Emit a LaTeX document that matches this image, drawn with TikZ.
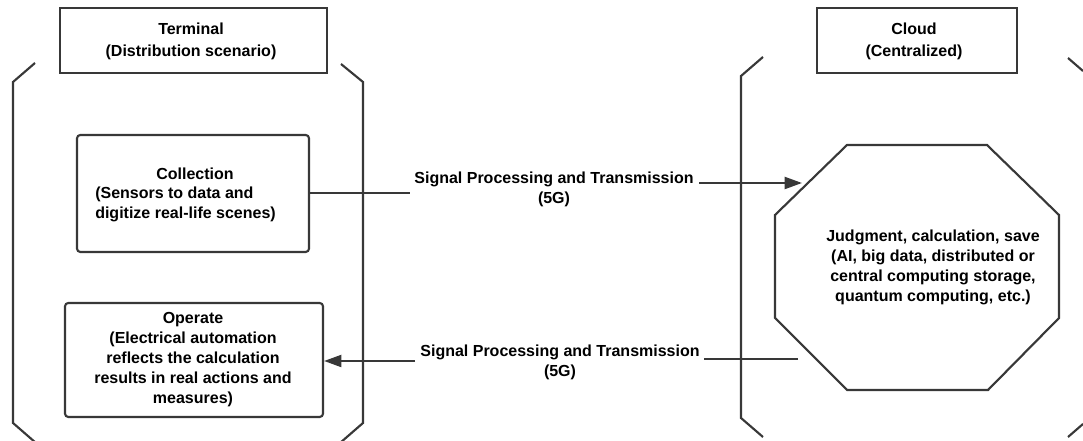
\documentclass[tikz,border=0pt]{standalone}
\usepackage{fontspec}
\setmainfont{Liberation Sans}
\usetikzlibrary{arrows.meta,fit}
\begin{document}
\begin{tikzpicture}[x=0.75pt,y=-0.75pt,
  line/.style={draw=black!78, line width=1.6pt},
  txt/.style={font=\fontsize{12}{15}\selectfont\bfseries, align=center, inner sep=0pt, text=black},
  hdrtxt/.style={font=\fontsize{12}{16.5}\selectfont\bfseries, align=center, inner sep=0pt, text=black},
  hdr/.style={line, rectangle, inner sep=0pt},
  box/.style={line, rectangle, rounded corners=2.5pt, inner sep=0pt},
  arr/.style={line, -{Triangle[length=13pt,width=9pt]}},
]
\useasboundingbox (0,0) rectangle (1083,441);

% header boxes
\node[hdr, fit={(60,8) (327,73)}] (term) {};
\node[hdrtxt] (termT) at (191,41) {Terminal\\(Distribution scenario)};
\node[hdr, fit={(817,8) (1017,73)}] (cloud) {};
\node[hdrtxt] (cloudT) at (914,41) {Cloud\\(Centralized)};

% brackets
\draw[line] (35,63) -- (13,82) -- (13,423) -- (36,443);
\draw[line] (341,64) -- (363,82) -- (363,423) -- (340,443);
\draw[line] (763,57) -- (741,76) -- (741,418) -- (763,437);
\draw[line] (1068,58) -- (1083,71);
\draw[line] (1083,424) -- (1068,437);

% terminal boxes
\node[box, fit={(77,135) (309,252)}] (coll) {};
\node[txt] (collT) at (195,174) {Collection};
\node[txt, align=left, anchor=west] (collB) at (95,204) {(Sensors to data and\\digitize real-life scenes)};

\node[box, fit={(65,303) (323,417)}] (oper) {};
\node[txt] (operT) at (193,360) {Operate\\(Electrical automation\\reflects the calculation\\results in real actions and\\measures)};

% octagon
\draw[line] (847,145) -- (987,145) -- (1059,215) -- (1059,318) -- (988,390) -- (847,390) -- (775,318) -- (775,215) -- cycle;
\node[txt] (judge) at (933,267) {Judgment, calculation, save\\(AI, big data, distributed or\\central computing storage,\\quantum computing, etc.)};

% signal labels
\node[txt] (sig1) at (554,189) {Signal Processing and Transmission\\(5G)};
\node[txt] (sig2) at (560,362) {Signal Processing and Transmission\\(5G)};

% connectors
\coordinate (s1a) at (410,193);
\coordinate (s1b) at (699,183);
\coordinate (s1t) at (802,183);
\draw[line] (coll.east |- s1a) -- (s1a);
\draw[arr] (s1b) -- (s1t);

\coordinate (s2s) at (798,359);
\coordinate (s2b) at (704,359);
\coordinate (s2a) at (415,361);
\draw[line] (s2s) -- (s2b);
\draw[arr] (s2a) -- (oper.east |- s2a);
\end{tikzpicture}
\end{document}
